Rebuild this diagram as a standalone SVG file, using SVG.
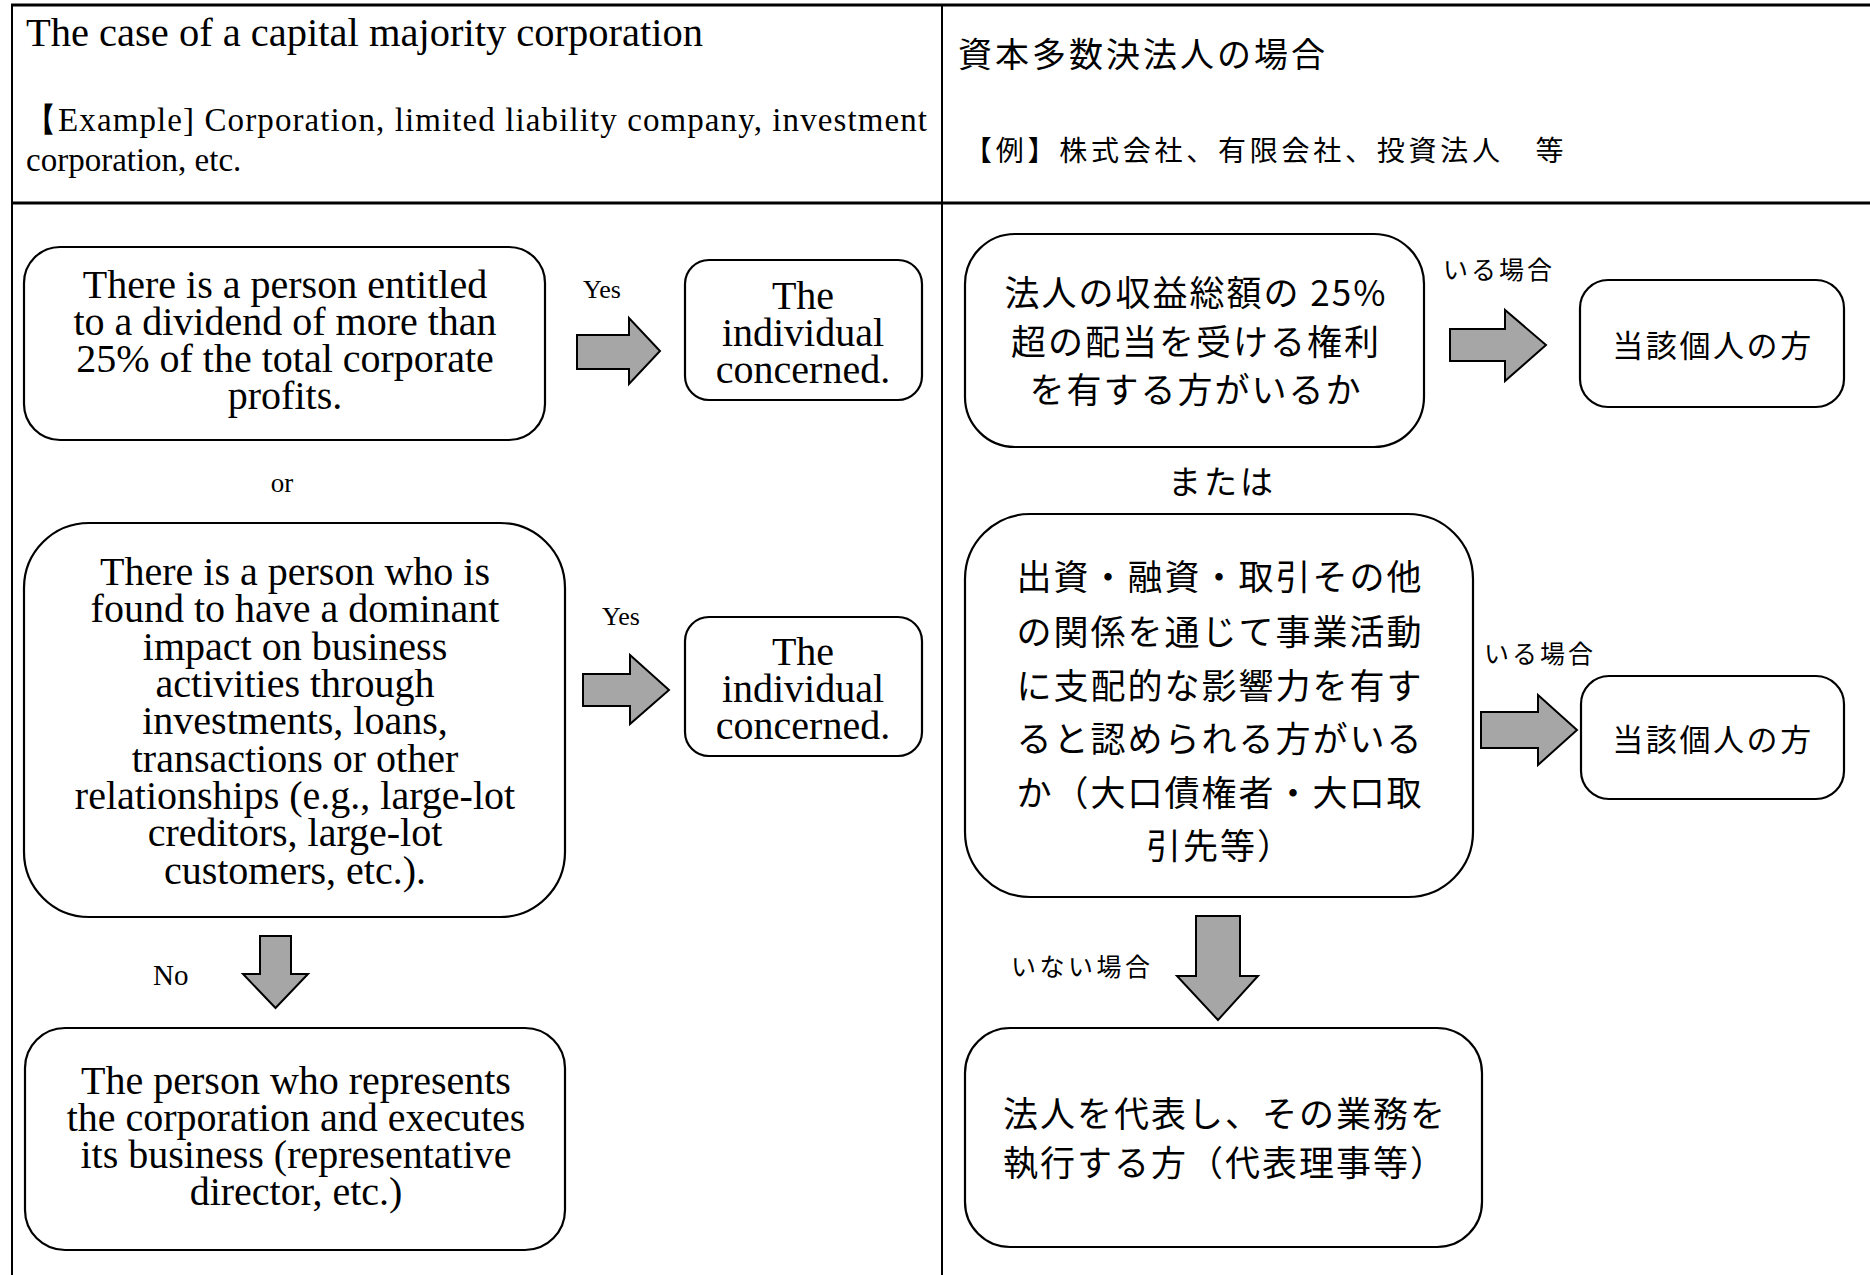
<svg xmlns="http://www.w3.org/2000/svg" width="1870" height="1275" viewBox="0 0 1870 1275">
<style>
.frame{stroke:#000;fill:none}
.box{fill:#fff;stroke:#000;stroke-width:2.2}
.arr{fill:#a6a6a6;stroke:#000;stroke-width:2;stroke-linejoin:miter}
.en{font-family:"Liberation Serif","Times New Roman",serif;fill:#000}
.jp{font-family:"Noto Sans CJK JP","Noto Sans CJK SC",sans-serif;fill:#000}
.c{text-anchor:middle}
.bt{font-size:40px}
.jb{font-size:35px;letter-spacing:2px}
</style>
<rect width="1870" height="1275" fill="#fff"/>
<g id="table">
<line class="frame" x1="11" y1="5" x2="1870" y2="5" stroke-width="3"/>
<line class="frame" x1="11" y1="203" x2="1870" y2="203" stroke-width="3"/>
<line class="frame" x1="12" y1="4" x2="12" y2="1275" stroke-width="2"/>
<line class="frame" x1="942" y1="4" x2="942" y2="1275" stroke-width="2"/>
</g>
<g id="header-en">
<text class="en" x="26" y="46" font-size="40.5">The case of a capital majority corporation</text>
<text class="en" x="24" y="131" font-size="33" textLength="903" lengthAdjust="spacing">【Example] Corporation, limited liability company, investment</text>
<text class="en" x="26" y="171" font-size="33">corporation, etc.</text>
</g>
<g id="header-jp">
<text class="jp" x="958" y="67" font-size="34" letter-spacing="3">資本多数決法人の場合</text>
<text class="jp" x="964" y="161" font-size="28" letter-spacing="3.75">【例】株式会社、有限会社、投資法人　等</text>
</g>
<g id="connectors">
<path class="arr" d="M577,335 H629 V318 L660,351 L629,384 V369 H577 Z"/>
<path class="arr" d="M583,674 H630 V655 L669,690 L630,724 V706 H583 Z"/>
<path class="arr" d="M260,936 H291 V974 H308 L275.5,1008 L243,974 H260 Z"/>
<path class="arr" d="M1450,329 H1505 V310 L1546,345 L1505,381 V361 H1450 Z"/>
<path class="arr" d="M1481,712 H1538 V695 L1577,730 L1538,765 V748 H1481 Z"/>
<path class="arr" d="M1196,916 H1240 V976 H1258 L1218,1020 L1177,976 H1196 Z"/>
<text class="en" x="583" y="298" font-size="26">Yes</text>
<text class="en" x="602" y="625" font-size="26">Yes</text>
<text class="en c" x="282" y="492" font-size="27">or</text>
<text class="en" x="153" y="985" font-size="29">No</text>
<text class="jp" x="1443" y="279" font-size="25" letter-spacing="3">いる場合</text>
<text class="jp" x="1484" y="663" font-size="25" letter-spacing="3">いる場合</text>
<text class="jp c" x="1222" y="494" font-size="33" letter-spacing="3">または</text>
<text class="jp" x="1011" y="976" font-size="25" letter-spacing="3.5">いない場合</text>
</g>
<g id="node-en-dividend">
<rect class="box" x="24" y="247" width="521" height="193" rx="36"/>
<text class="en c bt" x="285"><tspan x="285" y="298">There is a person entitled</tspan><tspan x="285" y="335">to a dividend of more than</tspan><tspan x="285" y="372">25% of the total corporate</tspan><tspan x="285" y="409">profits.</tspan></text>
</g>
<g id="node-en-individual-1">
<rect class="box" x="685" y="260" width="237" height="140" rx="24"/>
<text class="en c bt" x="803"><tspan x="803" y="309">The</tspan><tspan x="803" y="346">individual</tspan><tspan x="803" y="383">concerned.</tspan></text>
</g>
<g id="node-en-dominant">
<rect class="box" x="24" y="523" width="541" height="394" rx="65"/>
<text class="en c bt" x="295"><tspan x="295" y="585">There is a person who is</tspan><tspan x="295" y="622">found to have a dominant</tspan><tspan x="295" y="660">impact on business</tspan><tspan x="295" y="697">activities through</tspan><tspan x="295" y="734">investments, loans,</tspan><tspan x="295" y="772">transactions or other</tspan><tspan x="295" y="809">relationships (e.g., large-lot</tspan><tspan x="295" y="846">creditors, large-lot</tspan><tspan x="295" y="884">customers, etc.).</tspan></text>
</g>
<g id="node-en-individual-2">
<rect class="box" x="685" y="617" width="237" height="139" rx="24"/>
<text class="en c bt" x="803"><tspan x="803" y="665">The</tspan><tspan x="803" y="702">individual</tspan><tspan x="803" y="739">concerned.</tspan></text>
</g>
<g id="node-en-representative">
<rect class="box" x="25" y="1028" width="540" height="222" rx="40"/>
<text class="en c bt" x="296"><tspan x="296" y="1094">The person who represents</tspan><tspan x="296" y="1131">the corporation and executes</tspan><tspan x="296" y="1168">its business (representative</tspan><tspan x="296" y="1205">director, etc.)</tspan></text>
</g>
<g id="node-jp-dividend">
<rect class="box" x="965" y="234" width="459" height="213" rx="50"/>
<text class="jp c jb" x="1196"><tspan x="1196" y="306">法人の収益総額の 25%</tspan><tspan x="1196" y="355">超の配当を受ける権利</tspan><tspan x="1196" y="403">を有する方がいるか</tspan></text>
</g>
<g id="node-jp-individual-1">
<rect class="box" x="1580" y="280" width="264" height="127" rx="28"/>
<text class="jp c" x="1713" y="357" font-size="31" letter-spacing="2.6">当該個人の方</text>
</g>
<g id="node-jp-dominant">
<rect class="box" x="965" y="514" width="508" height="383" rx="65"/>
<text class="jp c jb" x="1220"><tspan x="1220" y="590">出資・融資・取引その他</tspan><tspan x="1220" y="645">の関係を通じて事業活動</tspan><tspan x="1220" y="699">に支配的な影響力を有す</tspan><tspan x="1220" y="752">ると認められる方がいる</tspan><tspan x="1220" y="806">か（大口債権者・大口取</tspan><tspan x="1220" y="859">引先等）</tspan></text>
</g>
<g id="node-jp-individual-2">
<rect class="box" x="1581" y="676" width="263" height="123" rx="28"/>
<text class="jp c" x="1713" y="751" font-size="31" letter-spacing="2.6">当該個人の方</text>
</g>
<g id="node-jp-representative">
<rect class="box" x="965" y="1028" width="517" height="219" rx="45"/>
<text class="jp c jb" x="1225"><tspan x="1225" y="1127">法人を代表し、その業務を</tspan><tspan x="1225" y="1176">執行する方（代表理事等）</tspan></text>
</g>
</svg>
